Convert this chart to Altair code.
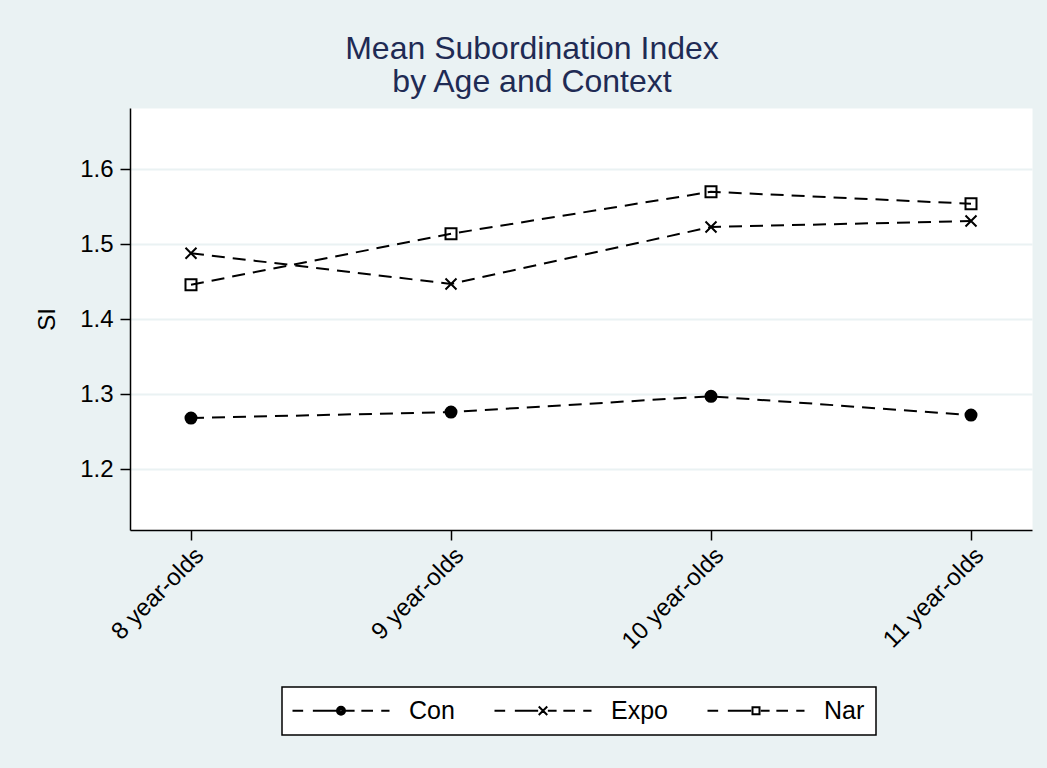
import altair as alt
import pandas as pd

# Mean subordination index per age group and context
ages = ["8 year-olds", "9 year-olds", "10 year-olds", "11 year-olds"]
contexts = ["Con", "Expo", "Nar"]
con_si = [1.268, 1.276, 1.297, 1.272]
expo_si = [1.488, 1.447, 1.523, 1.531]
nar_si = [1.446, 1.514, 1.570, 1.554]
si_ticks = [1.2, 1.3, 1.4, 1.5, 1.6]

rows = []
for ctx, vals in zip(contexts, [con_si, expo_si, nar_si]):
    for age, v in zip(ages, vals):
        rows.append({"age": age, "context": ctx, "si": v})
df = pd.DataFrame(rows)

FONT = "Liberation Sans"
BG = "#EAF2F3"

# marker shapes: filled circle, x-cross, hollow square
X_PATH = "M-1,-1L1,1M-1,1L1,-1"

# legend keys (symbol radius unit = 5px): dashed line with the marker in the middle
DASHES = "M-9.7,0L-7.57,0M-5.63,0L-0.97,0M0.97,0L2.72,0M4.07,0L6.4,0M8.05,0L9.7,0"
# solid dot drawn as nested rings so it stays filled with a transparent key fill
DOT = (
    "M0.8,0A0.8,0.8 0 1,1 -0.8,0A0.8,0.8 0 1,1 0.8,0Z"
    "M0.45,0A0.45,0.45 0 1,1 -0.45,0A0.45,0.45 0 1,1 0.45,0Z"
    "M0.12,0A0.12,0.12 0 1,1 -0.12,0A0.12,0.12 0 1,1 0.12,0Z"
)
KEY_CON = DASHES + DOT
KEY_EXPO = DASHES + "M-0.85,-0.85L0.85,0.85M-0.85,0.85L0.85,-0.85"
KEY_NAR = DASHES + "M-0.7,-0.7L0.7,-0.7L0.7,0.7L-0.7,0.7Z"

FS = 24

x_enc = alt.X(
    "age:N",
    sort=ages,
    scale=alt.Scale(type="point", padding=0.2346),
    axis=alt.Axis(
        title=None,
        labelAngle=-45,
        labelFontSize=FS,
        labelFont=FONT,
        labelColor="black",
        labelPadding=3,
        tickSize=10,
        tickColor="black",
        tickWidth=1.5,
        domainColor="black",
        domainWidth=1.5,
        grid=False,
    ),
)
y_enc = alt.Y(
    "si:Q",
    scale=alt.Scale(domain=[1.1186, 1.6818], nice=False, zero=False),
    axis=alt.Axis(
        values=si_ticks,
        format=".1f",
        title="SI",
        titleFontSize=FS,
        titleFont=FONT,
        titleFontWeight="normal",
        titleColor="black",
        titlePadding=20,
        labelFontSize=FS,
        labelFont=FONT,
        labelColor="black",
        labelPadding=7,
        tickSize=10,
        tickColor="black",
        tickWidth=1.5,
        domainColor="black",
        domainWidth=1.5,
        grid=True,
        gridColor=BG,
        gridWidth=2,
    ),
)

base = alt.Chart(df)

lines = base.mark_line(color="black", strokeWidth=2, strokeDash=[13, 8]).encode(
    x=x_enc,
    y=y_enc,
    detail="context:N",
)

points = base.mark_point(size=121, strokeWidth=2, opacity=1).encode(
    x=x_enc,
    y=y_enc,
    stroke=alt.value("black"),
    fill=alt.Fill(
        "context:N",
        scale=alt.Scale(domain=contexts, range=["black", "black", "transparent"]),
        legend=None,
    ),
    shape=alt.Shape(
        "context:N",
        scale=alt.Scale(domain=contexts, range=["circle", X_PATH, "square"]),
        legend=None,
    ),
)

# layer with no visible rows that only carries the legend keys
keys = (
    base.transform_filter("datum.si < 0")
    .mark_point(stroke="black", strokeWidth=2, fill="transparent")
    .encode(
        x=x_enc,
        y=y_enc,
        shape=alt.Shape(
            "context:N",
            scale=alt.Scale(domain=contexts, range=[KEY_CON, KEY_EXPO, KEY_NAR]),
            legend=alt.Legend(
                title=None,
                orient="none",
                legendX=152,
                legendY=579,
                direction="horizontal",
                columns=3,
                fillColor="white",
                strokeColor="black",
                padding=11,
                symbolSize=100,
                symbolOffset=35.5,
                labelOffset=55.5,
                labelFontSize=25,
                labelFont=FONT,
                labelColor="black",
                columnPadding=35,
                symbolStrokeWidth=2,
                symbolStrokeColor="black",
                symbolFillColor="transparent",
                symbolOpacity=1,
            ),
        ),
    )
)

chart = (
    alt.layer(lines, points, keys)
    .resolve_scale(shape="independent")
    .properties(
        width=902,
        height=422,
        autosize=alt.AutoSizeParams(type="none"),
        padding={"left": 130, "top": 108, "right": 15, "bottom": 238},
        background=BG,
        title=alt.Title(
            ["Mean Subordination Index", "by Age and Context"],
            fontSize=32,
            font=FONT,
            fontWeight="normal",
            color="#1F2B54",
            anchor="middle",
            dx=-49,
            offset=9,
            lineHeight=33,
        ),
    )
    .configure_view(fill="white", stroke="transparent")
    .configure_legend(strokeWidth=1.5)
)

chart.save("out.html", embed_options={"renderer": "svg", "actions": False})
